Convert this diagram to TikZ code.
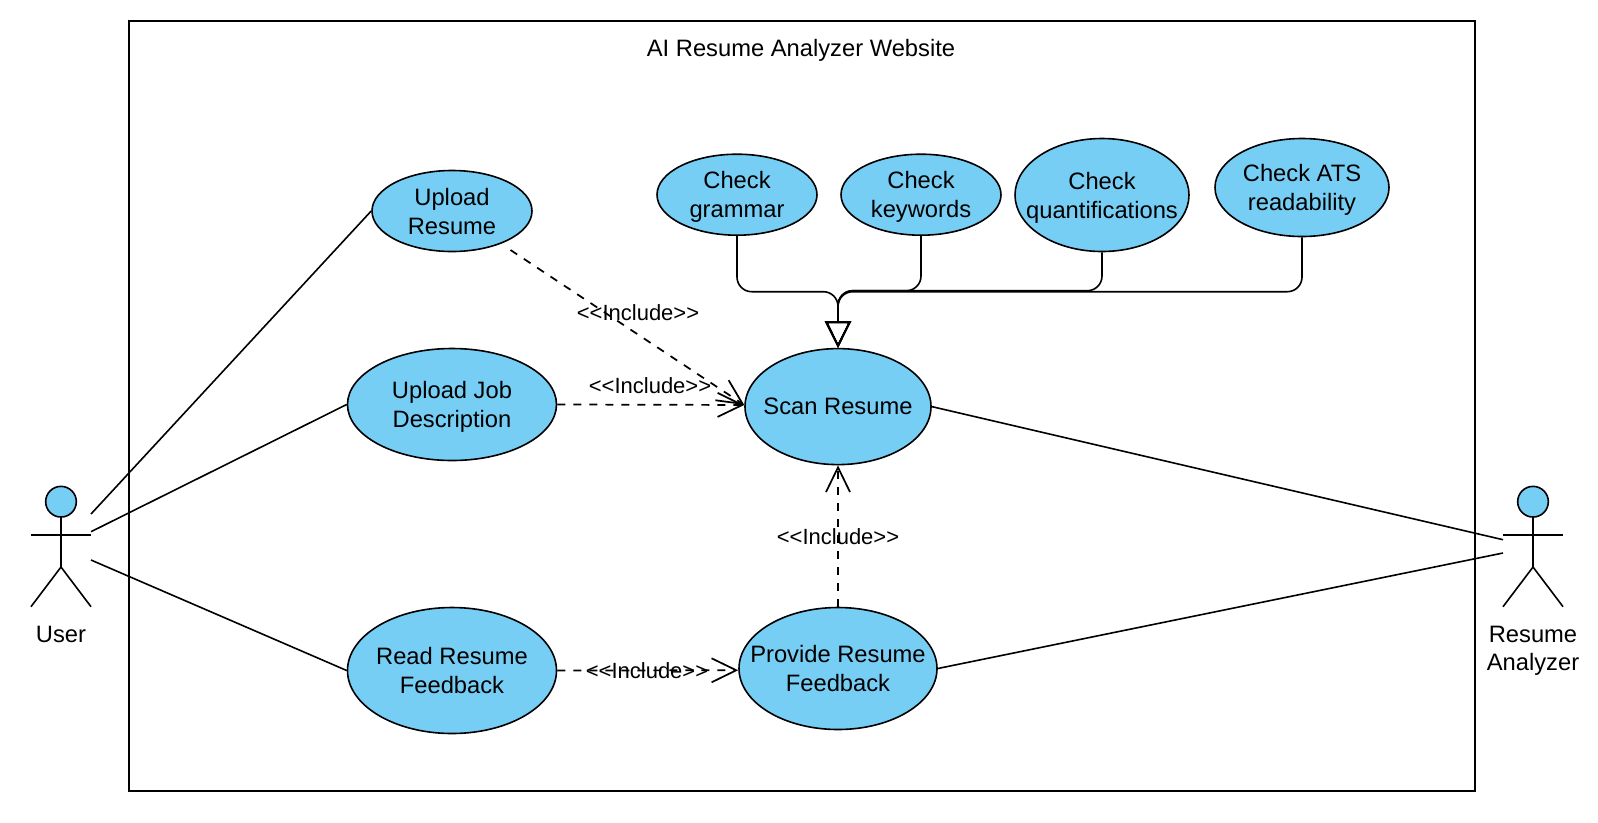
\documentclass[tikz,border=0pt]{standalone}
\usepackage{fontspec}
\setmainfont{Liberation Sans}
\usetikzlibrary{arrows.meta,shapes.geometric}
\definecolor{casefill}{HTML}{76CEF5}
\newcommand{\stickman}[2]{
	\node [head] (#1) at (#2,501.7) {} ;
	\draw [figure] (#1.south) -- (#2,567) ;
	\draw [figure] (#2-30,535) -- (#2+30,535) ;
	\draw [figure] (#2-30,606.7) -- (#2,567) -- (#2+30,606.7) ;
}
\begin{document}
\begin{tikzpicture}[
		x=0.75pt,y=-0.75pt,
		every node/.style={font=\fontsize{17.8}{21.6}\selectfont,align=center,text depth=0pt},
		usecase/.style 2 args={draw,ellipse,fill=casefill,line width=1.2pt,inner sep=-30pt,minimum width=#1*0.75pt,minimum height=#2*0.75pt},
		head/.style={draw,circle,fill=casefill,line width=1.2pt,inner sep=0pt,minimum size=23pt},
		figure/.style={line width=1.2pt},
		link/.style={line width=1.2pt},
		include/.style={line width=1.3pt,dash pattern=on 6pt off 6pt,-{Straight Barb[length=18.5pt,width=18pt]}},
		inherit/.style={line width=1.2pt,rounded corners=11pt,-{Triangle[open,length=20pt,width=19.5pt,line width=1.4pt]}},
		tag/.style={font=\fontsize{16.5}{20}\selectfont}
	]
	\useasboundingbox (0,0) rectangle (1598,822) ;

	\draw [line width=1.5pt] (129,20.5) rectangle (1475,790.7) ;
	\node (Title) at (801,48) {AI Resume Analyzer Website} ;

	\stickman{User}{61}
	\stickman{Bot}{1533}
	\node [below=0pt] (UserName) at (61,621) {User} ;
	\node [below=0pt] (BotName) at (1533,621) {Resume\\Analyzer} ;

	\coordinate (UserA) at (91,514) ;
	\coordinate (UserB) at (91,531.7) ;
	\coordinate (UserC) at (91,560) ;
	\coordinate (BotA) at (1503,539.7) ;
	\coordinate (BotB) at (1503,553) ;

	\node [usecase={160}{81}]   (UpRes)  at (452,211)     {Upload\\Resume} ;
	\node [usecase={209}{112}]  (UpJob)  at (452,404.5)   {Upload Job\\Description} ;
	\node [usecase={209}{126}]  (ReadFb) at (452,670.5)   {Read Resume\\Feedback} ;
	\node [usecase={186}{116}]  (Scan)   at (838,406.6)   {Scan Resume} ;
	\node [usecase={198}{122}]  (ProvFb) at (838,668.5)   {Provide Resume\\Feedback} ;
	\node [usecase={160}{81}]   (ChkGr)  at (737,194.7)   {Check\\grammar} ;
	\node [usecase={160}{81}]   (ChkKw)  at (921,194.7)   {Check\\keywords} ;
	\node [usecase={174}{113}]  (ChkQt)  at (1102,195)    {Check\\quantifications} ;
	\node [usecase={174}{98}]   (ChkAts) at (1302,187.5)  {Check ATS\\readability} ;

	\draw [link] (UserA) -- (UpRes.west) ;
	\draw [link] (UserB) -- (UpJob.west) ;
	\draw [link] (UserC) -- (ReadFb.west) ;
	\draw [link] (Scan.east) -- (BotA) ;
	\draw [link] (ProvFb.east) -- (BotB) ;

	\coordinate (ResOut) at (510.5,250) ;
	\coordinate (MrgA) at (838,291.7) ;
	\coordinate (MrgB) at (838,290.7) ;

	\draw [include] (ResOut) -- (Scan.179) ;
	\draw [include] (UpJob.east) -- (Scan.179) ;
	\draw [include] (ReadFb.east) -- (ProvFb.181) ;
	\draw [include] (ProvFb.north) -- (Scan.south) ;

	\draw [inherit] (ChkGr.south) |- (MrgA) -- (Scan.north) ;
	\draw [inherit] (ChkKw.south) |- (MrgB) -- (Scan.north) ;
	\draw [inherit] (ChkQt.south) |- (MrgB) -- (Scan.north) ;
	\draw [inherit] (ChkAts.south) |- (MrgA) -- (Scan.north) ;

	\node [tag] (TagRes)  at (638,313)   {<{}<Include>{}>} ;
	\node [tag] (TagJob)  at (650,386)   {<{}<Include>{}>} ;
	\node [tag] (TagRead) at (647,671)   {<{}<Include>{}>} ;
	\node [tag] (TagProv) at (838,536.5) {<{}<Include>{}>} ;
\end{tikzpicture}
\end{document}
